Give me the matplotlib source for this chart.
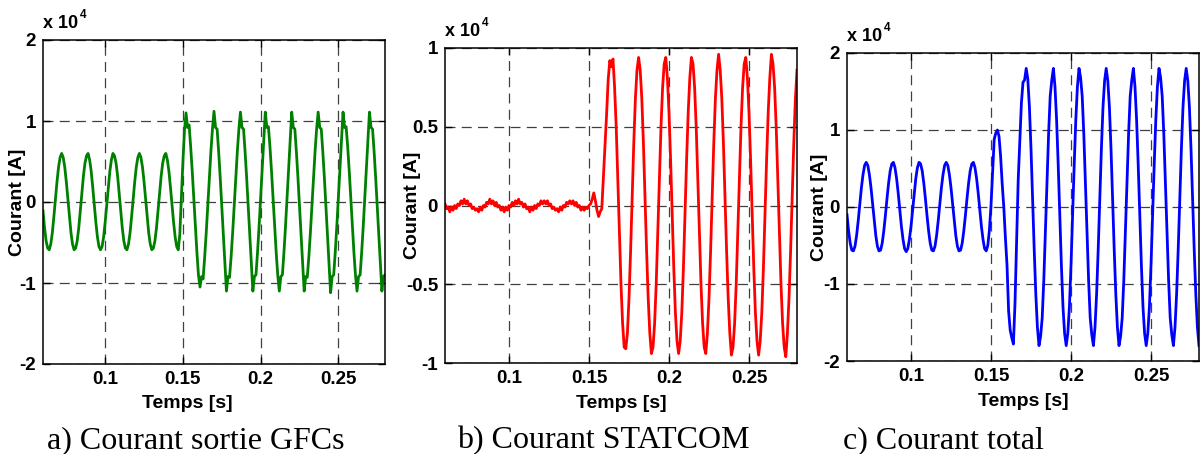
import numpy as np
import matplotlib
matplotlib.use("Agg")
import matplotlib.pyplot as plt

plt.rcParams['font.family'] = ['Liberation Sans', 'DejaVu Sans']

# sample times [s], one sample per ms
t = np.linspace(0.06, 0.28, 221)

# currents, in units of 1e4 A
i_gfc = [
    -0.11, -0.32, -0.48, -0.57, -0.59, -0.52, -0.38, -0.18, 0.04, 0.25,
    0.43, 0.55, 0.60, 0.55, 0.43, 0.25, 0.04, -0.18, -0.38, -0.52,
    -0.59, -0.57, -0.48, -0.32, -0.11, 0.11, 0.32, 0.48, 0.57, 0.60,
    0.52, 0.38, 0.18, -0.04, -0.25, -0.43, -0.55, -0.59, -0.55, -0.43,
    -0.25, -0.04, 0.18, 0.38, 0.52, 0.60, 0.57, 0.48, 0.32, 0.11,
    -0.11, -0.32, -0.48, -0.57, -0.59, -0.52, -0.38, -0.18, 0.04, 0.25,
    0.43, 0.55, 0.60, 0.55, 0.43, 0.25, 0.04, -0.18, -0.38, -0.52,
    -0.59, -0.57, -0.48, -0.32, -0.11, 0.11, 0.32, 0.48, 0.57, 0.60,
    0.52, 0.38, 0.18, -0.04, -0.25, -0.43, -0.55, -0.59, -0.40, 0.05,
    0.50, 0.88, 1.10, 0.92, 0.95, 0.68, 0.38, 0.05, -0.30, -0.62,
    -0.90, -1.05, -0.92, -0.95, -0.68, -0.38, -0.05, 0.30, 0.62, 0.90,
    1.12, 0.92, 0.90, 0.62, 0.30, -0.05, -0.40, -0.75, -1.10, -0.92,
    -0.93, -0.68, -0.38, -0.05, 0.30, 0.62, 0.90, 1.11, 0.92, 0.90,
    0.62, 0.30, -0.05, -0.40, -0.75, -1.10, -0.92, -0.90, -0.62, -0.30,
    0.05, 0.40, 0.75, 1.11, 0.92, 0.93, 0.68, 0.38, 0.05, -0.30,
    -0.62, -0.90, -1.10, -0.92, -0.90, -0.62, -0.30, 0.05, 0.40, 0.75,
    1.11, 0.92, 0.90, 0.62, 0.30, -0.05, -0.40, -0.75, -1.10, -0.92,
    -0.93, -0.68, -0.38, -0.05, 0.30, 0.62, 0.90, 1.11, 0.92, 0.90,
    0.62, 0.30, -0.05, -0.40, -0.75, -1.12, -0.92, -0.90, -0.62, -0.30,
    0.05, 0.40, 0.75, 1.11, 0.92, 0.93, 0.68, 0.38, 0.05, -0.30,
    -0.62, -0.90, -1.10, -0.92, -0.90, -0.62, -0.30, 0.05, 0.40, 0.75,
    1.11, 0.92, 0.90, 0.62, 0.30, -0.05, -0.40, -0.75, -1.10, -0.92,
    -0.90,
]

i_statcom = [
    0.01, -0.02, -0.01, -0.04, -0.01, -0.03, 0.00, -0.02, 0.01, 0.00,
    0.03, 0.01, 0.04, 0.01, 0.03, 0.00, 0.01, -0.02, -0.01, -0.03,
    -0.02, -0.04, -0.01, -0.03, 0.00, -0.01, 0.02, 0.01, 0.04, 0.01,
    0.03, 0.00, 0.02, -0.01, 0.00, -0.03, -0.01, -0.04, -0.01, -0.03,
    0.00, -0.01, 0.02, 0.00, 0.03, 0.01, 0.04, 0.01, 0.02, -0.01,
    0.01, -0.02, -0.01, -0.04, -0.01, -0.03, 0.00, -0.02, 0.01, 0.00,
    0.03, 0.01, 0.03, 0.01, 0.03, 0.00, 0.01, -0.02, -0.01, -0.03,
    -0.02, -0.04, -0.01, -0.03, 0.00, -0.01, 0.02, 0.01, 0.03, 0.01,
    0.03, 0.00, 0.02, -0.01, 0.00, -0.03, -0.01, -0.03, -0.01, -0.02,
    0.00, 0.01, 0.04, 0.08, 0.03, -0.03, -0.07, -0.04, -0.02, 0.18,
    0.38, 0.58, 0.80, 0.92, 0.88, 0.93, 0.75, 0.50, 0.17, -0.17,
    -0.50, -0.75, -0.90, -0.91, -0.81, -0.59, -0.29, 0.06, 0.40, 0.68,
    0.86, 0.94, 0.86, 0.68, 0.40, 0.06, -0.29, -0.59, -0.81, -0.94,
    -0.90, -0.75, -0.50, -0.17, 0.17, 0.50, 0.75, 0.90, 0.94, 0.81,
    0.59, 0.29, -0.06, -0.40, -0.68, -0.86, -0.94, -0.86, -0.68, -0.40,
    -0.06, 0.29, 0.59, 0.81, 0.94, 0.90, 0.75, 0.50, 0.17, -0.17,
    -0.50, -0.75, -0.90, -0.94, -0.81, -0.59, -0.29, 0.06, 0.40, 0.68,
    0.86, 0.96, 0.86, 0.68, 0.40, 0.06, -0.29, -0.59, -0.81, -0.95,
    -0.90, -0.75, -0.50, -0.17, 0.17, 0.50, 0.75, 0.90, 0.94, 0.81,
    0.59, 0.29, -0.06, -0.40, -0.68, -0.86, -0.95, -0.86, -0.68, -0.40,
    -0.06, 0.29, 0.59, 0.81, 0.96, 0.90, 0.75, 0.50, 0.17, -0.17,
    -0.50, -0.75, -0.90, -0.96, -0.81, -0.59, -0.29, 0.06, 0.40, 0.68,
    0.86,
]

i_total = [
    -0.10, -0.31, -0.47, -0.56, -0.57, -0.51, -0.37, -0.18, 0.04, 0.25,
    0.42, 0.54, 0.58, 0.54, 0.42, 0.25, 0.04, -0.18, -0.37, -0.51,
    -0.57, -0.56, -0.47, -0.31, -0.11, 0.11, 0.31, 0.47, 0.56, 0.58,
    0.51, 0.37, 0.18, -0.04, -0.25, -0.42, -0.54, -0.58, -0.54, -0.42,
    -0.25, -0.04, 0.18, 0.37, 0.51, 0.58, 0.56, 0.47, 0.31, 0.11,
    -0.11, -0.31, -0.47, -0.56, -0.57, -0.51, -0.37, -0.18, 0.04, 0.25,
    0.42, 0.54, 0.58, 0.54, 0.42, 0.25, 0.04, -0.18, -0.37, -0.51,
    -0.57, -0.56, -0.47, -0.31, -0.11, 0.11, 0.31, 0.47, 0.56, 0.58,
    0.51, 0.37, 0.18, -0.04, -0.25, -0.42, -0.54, -0.57, -0.50, -0.30,
    0.02, 0.45, 0.88, 0.96, 1.00, 0.92, 0.66, 0.30, 0.00, -0.40,
    -0.75, -1.35, -1.60, -1.70, -1.78, -1.25, -0.45, 0.35, 0.85, 1.35,
    1.62, 1.65, 1.80, 1.66, 1.30, 0.76, 0.11, -0.55, -1.13, -1.56,
    -1.80, -1.68, -1.44, -0.95, -0.33, 0.33, 0.95, 1.44, 1.65, 1.80,
    1.56, 1.13, 0.55, -0.11, -0.76, -1.30, -1.64, -1.80, -1.64, -1.30,
    -0.76, -0.11, 0.55, 1.13, 1.56, 1.80, 1.68, 1.44, 0.95, 0.33,
    -0.33, -0.95, -1.44, -1.66, -1.80, -1.56, -1.13, -0.55, 0.11, 0.76,
    1.30, 1.64, 1.80, 1.64, 1.30, 0.76, 0.11, -0.55, -1.13, -1.56,
    -1.80, -1.68, -1.44, -0.95, -0.33, 0.33, 0.95, 1.44, 1.65, 1.80,
    1.56, 1.13, 0.55, -0.11, -0.76, -1.30, -1.64, -1.80, -1.64, -1.30,
    -0.76, -0.11, 0.55, 1.13, 1.56, 1.80, 1.68, 1.44, 0.95, 0.33,
    -0.33, -0.95, -1.44, -1.66, -1.80, -1.56, -1.13, -0.55, 0.11, 0.76,
    1.30, 1.64, 1.80, 1.64, 1.30, 0.76, 0.11, -0.55, -1.13, -1.56,
    -1.80,
]

xticks = [0.1, 0.15, 0.2, 0.25]
xtick_labels = ['0.1', '0.15', '0.2', '0.25']
yticks_big = [-2, -1, 0, 1, 2]
ytick_labels_big = ['-2', '-1', '0', '1', '2']
yticks_small = [-1, -0.5, 0, 0.5, 1]
ytick_labels_small = ['-1', '-0.5', '0', '0.5', '1']
captions = ['a) Courant sortie GFCs', 'b) Courant STATCOM', 'c) Courant total']

W, H = 1200, 454
fig = plt.figure(figsize=(12, 4.54), dpi=100)


def rect(l, r, top, bot):
    return [l / W, (H - bot) / H, (r - l) / W, (bot - top) / H]


panels = [
    # axes box (px), data, colour, y ticks, y limit, ylabel x, xlabel x/y, caption x
    (rect(43, 385, 40, 364), i_gfc, (0, 0.5, 0), yticks_big, ytick_labels_big, 2,
     -0.049, 0.421, -0.096, 47),
    (rect(445, 797, 48, 363), i_statcom, 'red', yticks_small, ytick_labels_small, 1,
     -0.067, 0.5, -0.103, 457),
    (rect(847, 1199, 53, 361), i_total, 'blue', yticks_big, ytick_labels_big, 2,
     -0.053, 0.5, -0.105, 843),
]

for k, (box, y, col, yt, ytl, ylim, ylx, xlx, xly, capx) in enumerate(panels):
    ax = fig.add_axes(box)
    ax.plot(t, y, color=col, lw=2.0)
    ax.set_xlim(0.06, 0.28)
    ax.set_ylim(-ylim, ylim)
    ax.set_xticks(xticks)
    ax.set_xticklabels(xtick_labels, fontsize=13.5, fontweight='bold')
    ax.set_yticks(yt)
    ax.set_yticklabels(ytl, fontsize=13.5, fontweight='bold')
    ax.tick_params(direction='in', length=5, width=1, top=True, right=True, pad=5)
    ax.grid(True, color='0.25', lw=0.9, linestyle=(0, (8, 5)))
    for s in ax.spines.values():
        s.set_linewidth(1.1)
    ax.set_xlabel('Temps [s]', fontsize=14, fontweight='bold')
    ax.set_ylabel('Courant [A]', fontsize=14, fontweight='bold')
    ax.xaxis.set_label_coords(xlx, xly)
    ax.yaxis.set_label_coords(ylx, 0.5)
    # MATLAB-style exponent above the axes
    ax.annotate('x 10', xy=(0, 1), xycoords='axes fraction', xytext=(0, 8),
                textcoords='offset pixels', fontsize=13, fontweight='bold',
                ha='left', va='bottom')
    ax.annotate('4', xy=(0, 1), xycoords='axes fraction', xytext=(37, 19),
                textcoords='offset pixels', fontsize=8.5, fontweight='bold',
                ha='left', va='bottom')
    fig.text(capx / W, 6 / H, captions[k], family='Liberation Serif', fontsize=23,
             ha='left', va='baseline')

fig.savefig('out.png', dpi=100)
